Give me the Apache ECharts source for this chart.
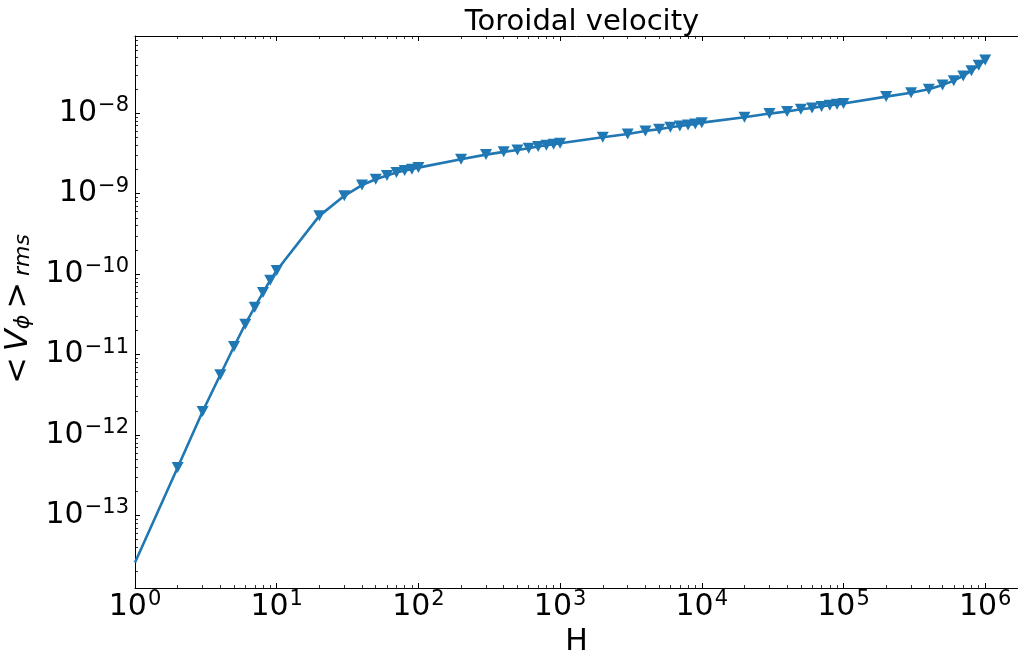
<!DOCTYPE html>
<html><head><meta charset="utf-8">
<script src="https://cdn.jsdelivr.net/npm/echarts@6/dist/echarts.min.js"></script>
<style>html,body{margin:0;padding:0;background:#fff}#c{width:1018px;height:652px}</style>
</head><body><div id="c"></div>
<script>
const titleText = 'Toroidal velocity';
const H = [1,2,3,4,5,6,7,8,9,10,
  20,30,40,50,60,70,80,90,100,
  200,300,400,500,600,700,800,900,1000,
  2000,3000,4000,5000,6000,7000,8000,9000,10000,
  20000,30000,40000,50000,60000,70000,80000,90000,100000,
  200000,300000,400000,500000,600000,700000,800000,900000,1000000];
const V = [2.6e-14,3.96e-13,1.96e-12,5.61e-12,1.26e-11,2.39e-11,3.89e-11,5.9e-11,8.4e-11,1.11e-10,
  5.3e-10,9.4e-10,1.28e-9,1.51e-9,1.68e-9,1.83e-9,1.94e-9,2.01e-9,2.11e-9,
  2.68e-9,3.06e-9,3.31e-9,3.50e-9,3.67e-9,3.85e-9,4.0e-9,4.12e-9,4.24e-9,
  5.03e-9,5.53e-9,6.03e-9,6.33e-9,6.70e-9,6.95e-9,7.16e-9,7.36e-9,7.64e-9,
  8.9e-9,9.9e-9,1.05e-8,1.12e-8,1.16e-8,1.21e-8,1.26e-8,1.29e-8,1.32e-8,
  1.61e-8,1.80e-8,1.99e-8,2.25e-8,2.54e-8,2.91e-8,3.38e-8,3.95e-8,4.59e-8];
const xTickExps = [0,1,2,3,4,5,6];
const yTickExps = [-13,-12,-11,-10,-9,-8];
const xRange = [1, 1.704e6];
const yRange = [1.256e-14, 9.12e-8];

const FONT = 'DejaVu Sans';
function powLabel(exps) {
  return function (v) {
    const l = Math.log10(v);
    const e = Math.round(l);
    if (Math.abs(l - e) > 1e-6 || exps.indexOf(e) < 0) return '';
    return '{b|10}{s|' + String(e).replace('-', '\u2212') + '}';
  };
}
const richTick = {
  b: {fontSize: 30, fontFamily: FONT, color: '#000', lineHeight: 30, verticalAlign: 'bottom'},
  s: {fontSize: 21, fontFamily: FONT, color: '#000', lineHeight: 21, verticalAlign: 'bottom', padding: [0, 0, 12, 1]}
};
const axisLineStyle = {show: true, lineStyle: {color: '#000', width: 1}};
const majorTick = {show: true, inside: true, length: 5, lineStyle: {color: '#000', width: 1}};
const minorTick = {show: true, splitNumber: 9, length: 3, lineStyle: {color: '#000', width: 0.8}};

const chart = echarts.init(document.getElementById('c'), null, {renderer: 'canvas'});
chart.setOption({
  backgroundColor: '#fff',
  animation: false,
  title: {text: titleText, left: 577, top: 3, textAlign: 'center',
    textStyle: {fontFamily: FONT, fontSize: 29, fontWeight: 'normal', color: '#000'}},
  grid: {left: 135, right: 0, top: 36, bottom: 64, containLabel: false, outerBoundsMode: 'none'},
  xAxis: [{
    type: 'log', min: xRange[0], max: xRange[1], logBase: 10,
    axisLine: axisLineStyle, axisTick: majorTick, minorTick: minorTick,
    splitLine: {show: false},
    axisLabel: {formatter: powLabel(xTickExps), rich: richTick, margin: 4, showMinLabel: true, showMaxLabel: true, hideOverlap: false},
    name: 'H', nameLocation: 'middle', nameGap: 32,
    nameTextStyle: {fontFamily: FONT, fontSize: 30, color: '#000'}
  }, {
    type: 'log', position: 'top', min: xRange[0], max: xRange[1], logBase: 10,
    axisLine: axisLineStyle, axisTick: majorTick, minorTick: minorTick,
    splitLine: {show: false}, axisLabel: {show: false}
  }],
  yAxis: [{
    type: 'log', min: yRange[0], max: yRange[1], logBase: 10,
    axisLine: axisLineStyle, axisTick: majorTick, minorTick: minorTick,
    splitLine: {show: false},
    axisLabel: {formatter: powLabel(yTickExps), rich: richTick, margin: 6, hideOverlap: false},
    name: '{n|<}{i|V}{s|\u03D5}{n|>}{r|rms}', nameLocation: 'middle', nameGap: 100, nameRotate: 90,
    nameTextStyle: {
      fontFamily: FONT, fontSize: 32, color: '#000',
      rich: {
        n: {fontFamily: FONT, fontSize: 32, color: '#000', padding: [0, 6, 0, 6], lineHeight: 32, verticalAlign: 'bottom'},
        i: {fontFamily: FONT, fontSize: 32, fontStyle: 'italic', color: '#000', lineHeight: 32, verticalAlign: 'bottom'},
        s: {fontFamily: FONT, fontSize: 22, fontStyle: 'italic', color: '#000', lineHeight: 22, verticalAlign: 'bottom', padding: [8, 0, 0, 0]},
        r: {fontFamily: FONT, fontSize: 22, fontStyle: 'italic', color: '#000', lineHeight: 22, verticalAlign: 'bottom', padding: [8, 0, 0, 0]}
      }
    }
  }],
  series: [{
    type: 'line',
    xAxisIndex: 0, yAxisIndex: 0,
    data: H.map((h, i) => i === 0 ? {value: [h, V[i]], symbol: 'none'} : [h, V[i]]),
    symbol: 'triangle', symbolSize: [12, 11], symbolRotate: 180,
    showAllSymbol: true,
    lineStyle: {color: '#1f77b4', width: 2.6},
    itemStyle: {color: '#1f77b4'},
    clip: true
  }]
});
</script></body></html>
